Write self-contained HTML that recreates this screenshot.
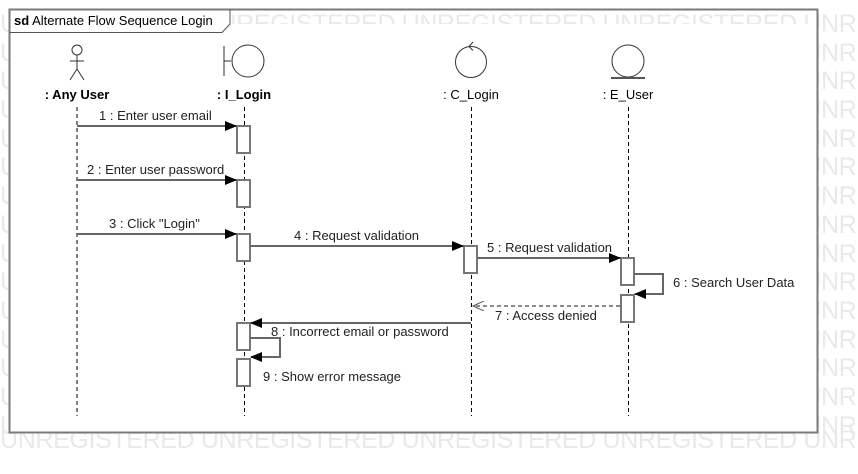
<!DOCTYPE html>
<html><head><meta charset="utf-8"><style>
html,body{margin:0;padding:0;background:#fff;}
svg{display:block;font-family:"Liberation Sans",sans-serif;}
</style></head><body>
<svg width="858" height="474" viewBox="0 0 858 474" xmlns="http://www.w3.org/2000/svg">
<defs>
<marker id="f" markerWidth="12" markerHeight="10" refX="11" refY="5" orient="auto" markerUnits="userSpaceOnUse"><path d="M0,0 L12,5 L0,10 Z" fill="#000"/></marker>
<marker id="o" markerWidth="12" markerHeight="10" refX="11" refY="5" orient="auto" markerUnits="userSpaceOnUse"><path d="M0,0 L11,5 L0,10" fill="none" stroke="#555" stroke-width="1"/></marker>
</defs>
<g fill="#e9e9e9" font-size="25">
<text x="0" y="32" textLength="998" lengthAdjust="spacing">UNREGISTERED UNREGISTERED UNREGISTERED UNREGISTERED UNREGISTERED</text>
<text x="0" y="61" textLength="998" lengthAdjust="spacing">UNREGISTERED UNREGISTERED UNREGISTERED UNREGISTERED UNREGISTERED</text>
<text x="0" y="89" textLength="998" lengthAdjust="spacing">UNREGISTERED UNREGISTERED UNREGISTERED UNREGISTERED UNREGISTERED</text>
<text x="0" y="118" textLength="998" lengthAdjust="spacing">UNREGISTERED UNREGISTERED UNREGISTERED UNREGISTERED UNREGISTERED</text>
<text x="0" y="147" textLength="998" lengthAdjust="spacing">UNREGISTERED UNREGISTERED UNREGISTERED UNREGISTERED UNREGISTERED</text>
<text x="0" y="175" textLength="998" lengthAdjust="spacing">UNREGISTERED UNREGISTERED UNREGISTERED UNREGISTERED UNREGISTERED</text>
<text x="0" y="204" textLength="998" lengthAdjust="spacing">UNREGISTERED UNREGISTERED UNREGISTERED UNREGISTERED UNREGISTERED</text>
<text x="0" y="233" textLength="998" lengthAdjust="spacing">UNREGISTERED UNREGISTERED UNREGISTERED UNREGISTERED UNREGISTERED</text>
<text x="0" y="262" textLength="998" lengthAdjust="spacing">UNREGISTERED UNREGISTERED UNREGISTERED UNREGISTERED UNREGISTERED</text>
<text x="0" y="290" textLength="998" lengthAdjust="spacing">UNREGISTERED UNREGISTERED UNREGISTERED UNREGISTERED UNREGISTERED</text>
<text x="0" y="319" textLength="998" lengthAdjust="spacing">UNREGISTERED UNREGISTERED UNREGISTERED UNREGISTERED UNREGISTERED</text>
<text x="0" y="348" textLength="998" lengthAdjust="spacing">UNREGISTERED UNREGISTERED UNREGISTERED UNREGISTERED UNREGISTERED</text>
<text x="0" y="376" textLength="998" lengthAdjust="spacing">UNREGISTERED UNREGISTERED UNREGISTERED UNREGISTERED UNREGISTERED</text>
<text x="0" y="405" textLength="998" lengthAdjust="spacing">UNREGISTERED UNREGISTERED UNREGISTERED UNREGISTERED UNREGISTERED</text>
<text x="0" y="434" textLength="998" lengthAdjust="spacing">UNREGISTERED UNREGISTERED UNREGISTERED UNREGISTERED UNREGISTERED</text>
</g>
<rect x="0" y="434" width="858" height="40" fill="#fff"/>
<text x="0" y="448" fill="#e9e9e9" font-size="25" textLength="998" lengthAdjust="spacing">UNREGISTERED UNREGISTERED UNREGISTERED UNREGISTERED UNREGISTERED</text>
<rect x="10" y="24" width="807" height="409" fill="#fff"/>
<rect x="10" y="10" width="220" height="14" fill="#fff"/>
<rect x="9.5" y="9.5" width="808" height="423" fill="none" stroke="#7a7a7a" stroke-width="2"/>
<path d="M9.5,32.5 H222 L230,24 V9.5" fill="none" stroke="#555" stroke-width="1"/>
<text x="14" y="25" font-size="13" fill="#000"><tspan font-weight="bold">sd</tspan> Alternate Flow Sequence Login</text>

<g stroke="#333" fill="none" stroke-width="1">
<circle cx="77" cy="50" r="5"/>
<line x1="77" y1="55" x2="77" y2="69"/><line x1="70" y1="61" x2="84" y2="61"/>
<line x1="77" y1="69" x2="70" y2="80"/><line x1="77" y1="69" x2="84" y2="80"/>
<line x1="224" y1="46" x2="224" y2="76"/><line x1="224" y1="61" x2="231" y2="61"/>
<circle cx="248" cy="61" r="16"/>
<circle cx="471" cy="62" r="15.5"/>
<path d="M473,42 L469,46.5 L473,50.5"/>
<circle cx="628" cy="61" r="16"/>
</g>
<line x1="611" y1="78" x2="645" y2="78" stroke="#555" stroke-width="2"/>
<g font-size="13" font-weight="bold" text-anchor="middle" fill="#000">
<text x="77" y="99">: Any User</text><text x="244" y="99">: I_Login</text>
</g>
<g font-size="13" text-anchor="middle" fill="#000">
<text x="471" y="99">: C_Login</text><text x="628" y="99">: E_User</text>
</g>

<g stroke="#000" stroke-dasharray="4,3" stroke-width="1">
<line x1="77" y1="107" x2="77" y2="416"/><line x1="244.5" y1="107" x2="244.5" y2="416"/>
<line x1="471.5" y1="107" x2="471.5" y2="416"/><line x1="628.5" y1="107" x2="628.5" y2="416"/>
</g>

<g fill="#fff" stroke="#777" stroke-width="2">
<rect x="237" y="126" width="13" height="27"/><rect x="237" y="180" width="13" height="27"/>
<rect x="237" y="234" width="13" height="27"/><rect x="237" y="323" width="13" height="27"/>
<rect x="237" y="359" width="13" height="27"/>
<rect x="464" y="246" width="13" height="27"/>
<rect x="621" y="258" width="13" height="27"/><rect x="621" y="295" width="13" height="27"/>
</g>

<g stroke="#666" stroke-width="2" fill="none">
<line x1="77" y1="126" x2="236" y2="126" marker-end="url(#f)"/>
<line x1="77" y1="180" x2="236" y2="180" marker-end="url(#f)"/>
<line x1="77" y1="234" x2="236" y2="234" marker-end="url(#f)"/>
<line x1="250" y1="246" x2="463" y2="246" marker-end="url(#f)"/>
<line x1="477" y1="258" x2="620" y2="258" marker-end="url(#f)"/>
<path d="M634,274 H663 V294 H635" marker-end="url(#f)"/>
<line x1="471" y1="323" x2="251" y2="323" marker-end="url(#f)"/>
<path d="M250,338 H280 V357 H251" marker-end="url(#f)"/>
</g>
<line x1="620" y1="306" x2="473" y2="306" stroke="#666" stroke-width="1.5" stroke-dasharray="4,3" marker-end="url(#o)"/>

<g font-size="13" fill="#222">
<text x="99" y="120">1 : Enter user email</text>
<text x="87" y="174">2 : Enter user password</text>
<text x="109" y="228">3 : Click "Login"</text>
<text x="294" y="240">4 : Request validation</text>
<text x="487" y="252">5 : Request validation</text>
<text x="673" y="287">6 : Search User Data</text>
<text x="495" y="320">7 : Access denied</text>
<text x="271" y="336">8 : Incorrect email or password</text>
<text x="263" y="381">9 : Show error message</text>
</g>
</svg>
</body></html>
